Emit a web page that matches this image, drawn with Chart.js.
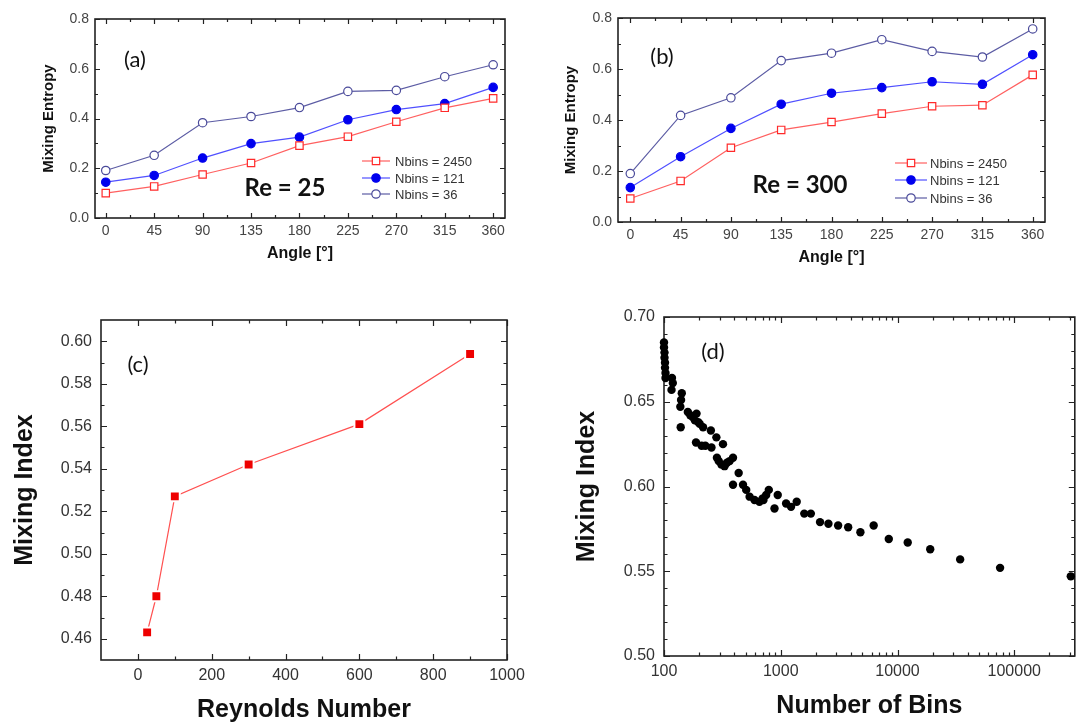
<!DOCTYPE html>
<html>
<head>
<meta charset="utf-8">
<script src="https://cdn.jsdelivr.net/npm/chart.js@4.4.1/dist/chart.umd.min.js"></script>
<style>
  html, body { margin: 0; padding: 0; background: #fff; width: 1079px; height: 723px; overflow: hidden; }
  canvas { position: absolute; }
  #cA { left: 0; top: 0; }
  #cB { left: 540px; top: 0; }
  #cC { left: 0; top: 290px; }
  #cD { left: 560px; top: 290px; }
</style>
</head>
<body>
<canvas id="cA" width="540" height="280"></canvas>
<canvas id="cB" width="539" height="280"></canvas>
<canvas id="cC" width="540" height="433"></canvas>
<canvas id="cD" width="519" height="433"></canvas>
<script>
// ---------- DATOS ----------
// (a) y (b): entropía de mezcla vs ángulo
const angles = [0, 45, 90, 135, 180, 225, 270, 315, 360];
const re25Nbins2450 = [0.100, 0.127, 0.175, 0.221, 0.291, 0.327, 0.387, 0.443, 0.481];
const re25Nbins121  = [0.144, 0.171, 0.241, 0.299, 0.325, 0.395, 0.436, 0.460, 0.525];
const re25Nbins36   = [0.191, 0.252, 0.383, 0.408, 0.444, 0.509, 0.513, 0.568, 0.616];
const re300Nbins2450 = [0.092, 0.161, 0.291, 0.361, 0.392, 0.425, 0.454, 0.458, 0.577];
const re300Nbins121  = [0.135, 0.256, 0.367, 0.462, 0.505, 0.527, 0.550, 0.540, 0.656];
const re300Nbins36   = [0.190, 0.418, 0.487, 0.633, 0.662, 0.715, 0.669, 0.647, 0.757];

// (c): índice de mezcla vs Reynolds
const reynolds = [25, 50, 100, 300, 600, 900];
const mixIndexRe = [0.463, 0.480, 0.527, 0.542, 0.561, 0.594];

// (d): índice de mezcla vs número de bins
const binCounts = [100, 100, 101, 101, 102, 102, 103, 103, 117, 119, 116, 142, 140, 138, 139,
  160, 168, 176, 190, 184, 196, 188, 202, 210, 216, 226, 252, 255, 281, 320, 284, 294, 310,
  330, 346, 365, 390, 436, 390, 475, 506, 541, 596, 657, 700, 711, 750, 790, 884, 942, 1111,
  1225, 1370, 1590, 1810, 2170, 2560, 3100, 3780, 4810, 6250, 8420, 12230, 19060, 34400,
  75600, 305000];
const mixIndexBins = [0.685, 0.682, 0.679, 0.676, 0.673, 0.670, 0.667, 0.664, 0.664, 0.661, 0.657,
  0.655, 0.651, 0.647, 0.635, 0.644, 0.642, 0.641, 0.643, 0.639, 0.638, 0.626, 0.637, 0.624,
  0.635, 0.624, 0.633, 0.623, 0.629, 0.625, 0.617, 0.615, 0.613, 0.612, 0.614, 0.615, 0.617,
  0.608, 0.601, 0.601, 0.598, 0.594, 0.592, 0.591, 0.593, 0.592, 0.595, 0.598, 0.587, 0.595,
  0.590, 0.588, 0.591, 0.584, 0.584, 0.579, 0.578, 0.577, 0.576, 0.573, 0.577, 0.569, 0.567,
  0.563, 0.557, 0.552, 0.547];

// ---------- MARCAS DE EJES ----------
const angleTicks = [0, 45, 90, 135, 180, 225, 270, 315, 360];
const angleMinor = [22.5, 67.5, 112.5, 157.5, 202.5, 247.5, 292.5, 337.5];
const entropyTicks = [0.0, 0.2, 0.4, 0.6, 0.8];
const entropyMinor = [0.1, 0.3, 0.5, 0.7];
const reTicks = [0, 200, 400, 600, 800, 1000];
const reMinor = [100, 300, 500, 700, 900];
const indexTicksC = [0.46, 0.48, 0.50, 0.52, 0.54, 0.56, 0.58, 0.60];
const indexMinorC = [0.47, 0.49, 0.51, 0.53, 0.55, 0.57, 0.59];
const binTicks = [100, 1000, 10000, 100000];
const binMinor = [200, 300, 400, 500, 600, 700, 800, 900, 2000, 3000, 4000, 5000, 6000, 7000,
  8000, 9000, 20000, 30000, 40000, 50000, 60000, 70000, 80000, 90000, 200000, 300000];
const indexTicksD = [0.50, 0.55, 0.60, 0.65, 0.70];
const indexMinorD = [0.51, 0.52, 0.53, 0.54, 0.56, 0.57, 0.58, 0.59, 0.61, 0.62, 0.63, 0.64,
  0.66, 0.67, 0.68, 0.69];

const legendLabels = ['Nbins = 2450', 'Nbins = 121', 'Nbins = 36'];

// ---------- ESTILOS ----------
const SANS = "'Liberation Sans', Arial, sans-serif";
const CALI = "Lato, 'Open Sans', sans-serif";

function pts(xs, ys) { return xs.map((v, i) => ({ x: v, y: ys[i] })); }

// marco con marcas hacia adentro + textos + leyenda
function decor(cfg) {
  return {
    id: 'decor',
    beforeDatasetsDraw(chart) {
      const { ctx, chartArea: a, scales: { x, y } } = chart;
      ctx.save();
      ctx.strokeStyle = '#222';
      ctx.lineWidth = 1.2;
      const drawX = (vals, len) => vals.forEach(v => {
        const p = Math.round(x.getPixelForValue(v)) + 0.5;
        ctx.beginPath();
        ctx.moveTo(p, a.bottom); ctx.lineTo(p, a.bottom - len);
        ctx.moveTo(p, a.top); ctx.lineTo(p, a.top + len);
        ctx.stroke();
      });
      const drawY = (vals, len) => vals.forEach(v => {
        const p = Math.round(y.getPixelForValue(v)) + 0.5;
        ctx.beginPath();
        ctx.moveTo(a.left, p); ctx.lineTo(a.left + len, p);
        ctx.moveTo(a.right, p); ctx.lineTo(a.right - len, p);
        ctx.stroke();
      });
      drawX(cfg.xMajor, cfg.major); drawX(cfg.xMinor, cfg.minor);
      drawY(cfg.yMajor, cfg.major); drawY(cfg.yMinor, cfg.minor);
      ctx.lineWidth = 1.6;
      ctx.strokeRect(a.left, a.top, a.right - a.left, a.bottom - a.top);
      ctx.restore();
    },
    afterDatasetsDraw(chart) {
      const ctx = chart.ctx;
      ctx.save();
      ctx.textAlign = 'center';
      ctx.textBaseline = 'middle';
      (cfg.texts || []).forEach(t => {
        ctx.fillStyle = '#111';
        ctx.font = t.font;
        ctx.fillText(t.text, t.x, t.y);
      });
      if (cfg.legend) {
        const L = cfg.legend;
        chart.data.datasets.forEach((ds, i) => {
          const yy = L.rows[i];
          ctx.strokeStyle = ds.borderColor;
          ctx.lineWidth = 1.2;
          ctx.beginPath();
          ctx.moveTo(L.x0, yy); ctx.lineTo(L.x1, yy);
          ctx.stroke();
          const cx = (L.x0 + L.x1) / 2;
          ctx.fillStyle = ds.pointBackgroundColor;
          ctx.strokeStyle = ds.pointBorderColor;
          ctx.lineWidth = ds.pointBorderWidth;
          ctx.beginPath();
          if (ds.pointStyle === 'rect') {
            const s = ds.pointRadius * Math.SQRT1_2;
            ctx.rect(cx - s, yy - s, 2 * s, 2 * s);
          } else {
            ctx.arc(cx, yy, ds.pointRadius, 0, Math.PI * 2);
          }
          ctx.fill(); ctx.stroke();
          ctx.fillStyle = '#333';
          ctx.font = '13px ' + SANS;
          ctx.textAlign = 'left';
          ctx.fillText(legendLabels[i], L.tx, yy + 1);
        });
      }
      ctx.restore();
    }
  };
}

function linearAxis(o) {
  return {
    type: o.type || 'linear',
    min: o.min, max: o.max,
    afterBuildTicks: s => { s.ticks = o.ticks.map(v => ({ value: v })); },
    afterFit: s => { if (o.width !== undefined) s.width = o.width; if (o.height !== undefined) s.height = o.height; },
    grid: { display: false, drawTicks: false },
    border: { display: false },
    ticks: {
      autoSkip: false, maxRotation: 0, padding: o.pad, color: o.tickColor,
      font: { family: SANS, size: o.tickSize },
      callback: o.fmt
    },
    title: {
      display: true, text: o.title, color: '#111',
      font: { family: SANS, size: o.titleSize, weight: 'bold', lineHeight: 1 },
      padding: o.titlePad
    }
  };
}

function angleSeries(vals, kind) {
  const st = {
    red:    { line: '#ff6060', pb: '#ffffff', pc: '#ff2a2a', style: 'rect', r: 5.2 },
    blue:   { line: '#5050ff', pb: '#0000ee', pc: '#0000ee', style: 'circle', r: 4.2 },
    purple: { line: '#5c5ca4', pb: '#ffffff', pc: '#4a4a9a', style: 'circle', r: 4.2 }
  }[kind];
  return {
    data: pts(angles, vals),
    showLine: true,
    borderColor: st.line,
    borderWidth: 1.2,
    pointStyle: st.style,
    pointRadius: st.r,
    pointBackgroundColor: st.pb,
    pointBorderColor: st.pc,
    pointBorderWidth: 1.2,
    clip: false
  };
}

function angleChart(id, sets, o) {
  return new Chart(document.getElementById(id), {
    type: 'scatter',
    data: { datasets: [angleSeries(sets[0], 'red'), angleSeries(sets[1], 'blue'), angleSeries(sets[2], 'purple')] },
    options: {
      responsive: false, animation: false, devicePixelRatio: 1,
      layout: { padding: { top: o.top, right: o.right, left: 0, bottom: 0 } },
      plugins: { legend: { display: false }, tooltip: { enabled: false } },
      scales: {
        x: linearAxis({ min: o.xmin, max: o.xmax, ticks: angleTicks, height: o.xh, pad: 5,
          tickColor: '#444', tickSize: 14, fmt: v => String(v), title: 'Angle [°]', titleSize: 16,
          titlePad: { top: 0, bottom: o.xtp } }),
        y: linearAxis({ min: 0, max: 0.8, ticks: entropyTicks, width: o.yw, pad: 6,
          tickColor: '#444', tickSize: 14, fmt: v => v.toFixed(1), title: 'Mixing Entropy', titleSize: 15,
          titlePad: { top: o.ytp, bottom: 0 } })
      }
    },
    plugins: [decor({ xMajor: angleTicks, xMinor: angleMinor, yMajor: entropyTicks, yMinor: entropyMinor,
      major: 5, minor: 3, texts: o.texts, legend: o.legend })]
  });
}

// ---------- (a) ----------
angleChart('cA', [re25Nbins2450, re25Nbins121, re25Nbins36], {
  top: 19, right: 35, xh: 62, yw: 95, xmin: -10, xmax: 371, xtp: 18, ytp: 41,
  texts: [
    { text: '(a)', x: 135, y: 60, font: '22px ' + CALI },
    { text: 'Re = 25', x: 285, y: 188, font: 'bold 24px ' + CALI }
  ],
  legend: { x0: 362, x1: 390, tx: 395, rows: [161, 178, 194] }
});

// ---------- (b) ----------
angleChart('cB', [re300Nbins2450, re300Nbins121, re300Nbins36], {
  top: 18, right: 34, xh: 58, yw: 78, xmin: -11, xmax: 371, xtp: 14, ytp: 23,
  texts: [
    { text: '(b)', x: 122, y: 57, font: '22px ' + CALI },
    { text: 'Re = 300', x: 260, y: 185, font: 'bold 24px ' + CALI }
  ],
  legend: { x0: 355, x1: 387, tx: 390, rows: [163, 180, 198] }
});

// ---------- (c) ----------
new Chart(document.getElementById('cC'), {
  type: 'scatter',
  data: {
    datasets: [{
      data: pts(reynolds, mixIndexRe),
      showLine: true,
      borderColor: '#ff5050',
      borderWidth: 1.2,
      pointStyle: 'rect',
      pointRadius: 7,
      pointBackgroundColor: '#ee0000',
      pointBorderColor: '#ffffff',
      pointBorderWidth: 2,
      clip: false
    }]
  },
  options: {
    responsive: false, animation: false, devicePixelRatio: 1,
    layout: { padding: { top: 30, right: 33, left: 0, bottom: 0 } },
    plugins: { legend: { display: false }, tooltip: { enabled: false } },
    scales: {
      x: linearAxis({ min: -100, max: 1000, ticks: reTicks, height: 63, pad: 6,
        tickColor: '#333', tickSize: 16, fmt: v => String(v), title: 'Reynolds Number', titleSize: 25,
        titlePad: { top: 0, bottom: 0 } }),
      y: linearAxis({ min: 0.45, max: 0.61, ticks: indexTicksC, width: 101, pad: 9,
        tickColor: '#333', tickSize: 16, fmt: v => v.toFixed(2), title: 'Mixing Index', titleSize: 25,
        titlePad: { top: 13, bottom: 0 } })
    }
  },
  plugins: [decor({ xMajor: reTicks, xMinor: reMinor, yMajor: indexTicksC, yMinor: indexMinorC,
    major: 6, minor: 3.5, texts: [{ text: '(c)', x: 138, y: 75, font: '22px ' + CALI }] })]
});

// ---------- (d) ----------
new Chart(document.getElementById('cD'), {
  type: 'scatter',
  data: {
    datasets: [{
      data: pts(binCounts, mixIndexBins),
      pointStyle: 'circle',
      pointRadius: 4.2,
      pointBackgroundColor: '#000',
      pointBorderColor: '#000',
      pointBorderWidth: 0,
      clip: false
    }]
  },
  options: {
    responsive: false, animation: false, devicePixelRatio: 1,
    layout: { padding: { top: 27, right: 2, left: 0, bottom: 0 } },
    plugins: { legend: { display: false }, tooltip: { enabled: false } },
    scales: {
      x: linearAxis({ type: 'logarithmic', min: 100, max: 330000, ticks: binTicks, height: 67, pad: 6,
        tickColor: '#333', tickSize: 16, fmt: v => String(v), title: 'Number of Bins', titleSize: 25,
        titlePad: { top: 0, bottom: 4 } }),
      y: linearAxis({ min: 0.50, max: 0.70, ticks: indexTicksD, width: 104, pad: 9,
        tickColor: '#333', tickSize: 16, fmt: v => v.toFixed(2), title: 'Mixing Index', titleSize: 25,
        titlePad: { top: 15, bottom: 0 } })
    }
  },
  plugins: [decor({ xMajor: binTicks, xMinor: binMinor, yMajor: indexTicksD, yMinor: indexMinorD,
    major: 6, minor: 3.5, texts: [{ text: '(d)', x: 153, y: 62, font: '22px ' + CALI }] })]
});
</script>
</body>
</html>
